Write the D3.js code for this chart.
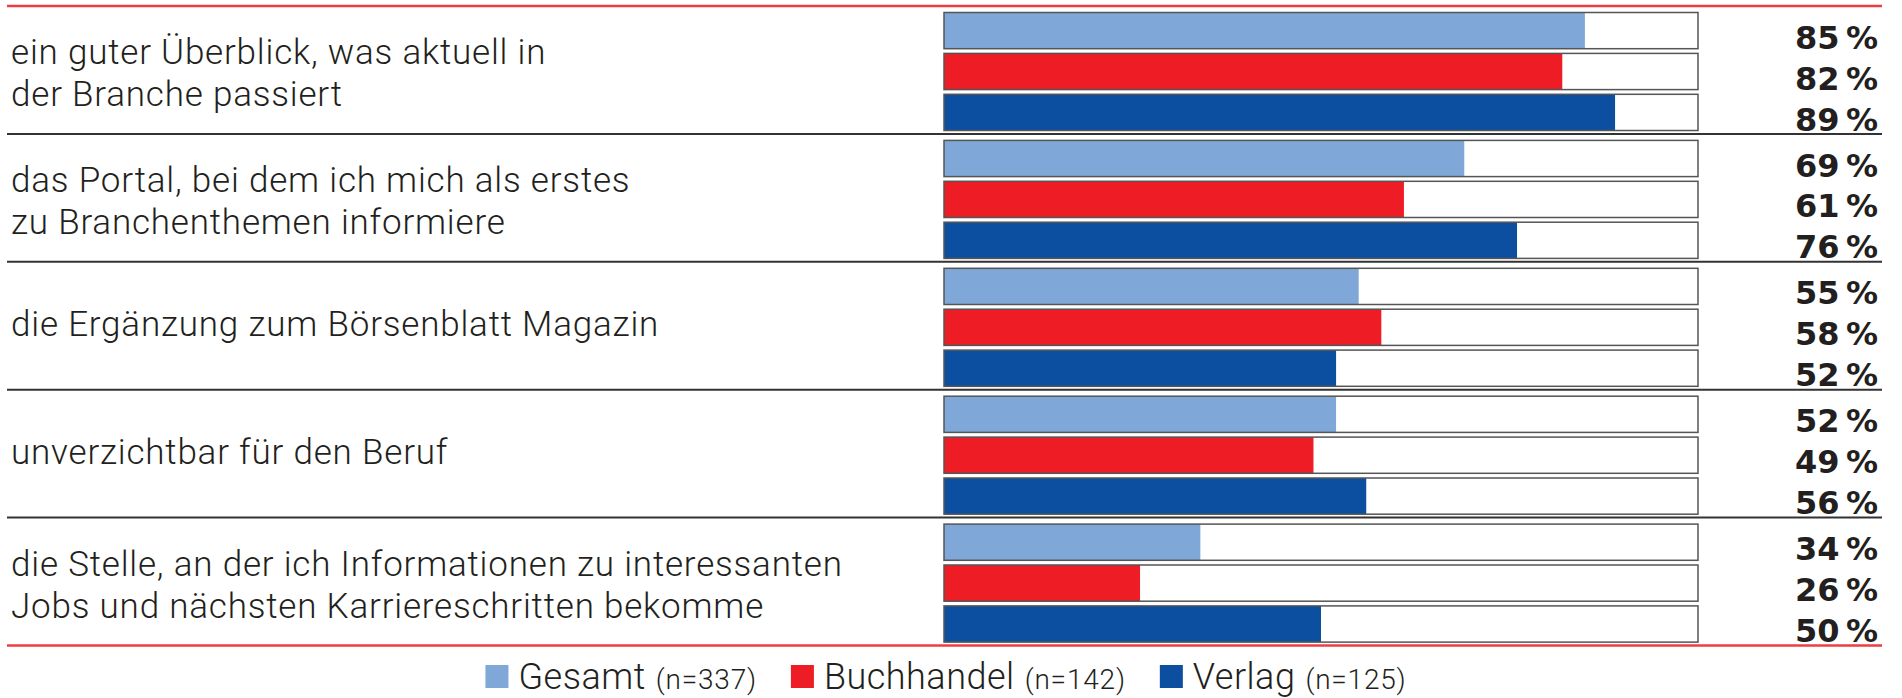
<!DOCTYPE html>
<html>
<head>
<meta charset="utf-8">
<script src="https://cdn.jsdelivr.net/npm/d3@7"></script>
<style>
  body { margin: 0; background: #fff; }
  .cat { font-family: Roboto, "Liberation Sans", sans-serif; font-weight: 300; font-size: 35px; letter-spacing: 0.8px; fill: #231f20; }
  .pct { font-family: "DejaVu Sans", sans-serif; font-weight: bold; font-size: 32px; fill: #231f20; }
  .leg { font-family: Roboto, "Liberation Sans", sans-serif; font-weight: 300; fill: #231f20; }
</style>
</head>
<body>
<div id="chart"></div>
<script>
// data
const categories = [
  ["ein guter Überblick, was aktuell in", "der Branche passiert"],
  ["das Portal, bei dem ich mich als erstes", "zu Branchenthemen informiere"],
  ["die Ergänzung zum Börsenblatt Magazin"],
  ["unverzichtbar für den Beruf"],
  ["die Stelle, an der ich Informationen zu interessanten", "Jobs und nächsten Karriereschritten bekomme"]
];
const seriesNames = ["Gesamt", "Buchhandel", "Verlag"];
const seriesN = ["(n=337)", "(n=142)", "(n=125)"];
const gesamt = [85, 69, 55, 52, 34];
const buchhandel = [82, 61, 58, 49, 26];
const verlag = [89, 76, 52, 56, 50];
const colors = ["#7fa8d8", "#ee1d25", "#0c4fa0"];

const width = 1902, height = 698;

const svg = d3.select("#chart")
  .append("svg")
    .attr("width", width)
    .attr("height", height);

const values = [gesamt, buchhandel, verlag];
const rows = categories.map((c, i) => ({ idx: i, lines: c }));

// scales
const y = d3.scaleBand()
  .domain(rows.map(d => d.idx))
  .range([6, 645.5])
  .padding(0);

const ySub = d3.scaleBand()
  .domain(seriesNames)
  .range([6.5, 124.5])
  .paddingInner(0.115)
  .paddingOuter(0);

const x = d3.scaleLinear()
  .domain([0, 100])
  .range([944, 1698]);

const lineX0 = 7, lineX1 = 1882;

// group rows
const g = svg.selectAll("g.row")
  .data(rows)
  .join("g")
    .attr("class", "row")
    .attr("transform", d => `translate(0,${y(d.idx)})`);

// category labels
g.each(function(d) {
  const mid = y.bandwidth() / 2;
  const t = d3.select(this).append("text").attr("class", "cat");
  if (d.lines.length === 1) {
    t.append("tspan").attr("x", 11).attr("y", mid + 10).text(d.lines[0]);
  } else {
    d.lines.forEach((l, k) => {
      t.append("tspan").attr("x", 11).attr("y", mid - 5.5 + k * 41.5).text(l);
    });
  }
});

// bars
const bars = g.selectAll("g.bar")
  .data(d => seriesNames.map((s, j) => ({ s: s, j: j, v: values[j][d.idx] })))
  .join("g")
    .attr("class", "bar");

bars.append("rect")
  .attr("x", x(0))
  .attr("y", d => ySub(d.s))
  .attr("width", x(100) - x(0))
  .attr("height", ySub.bandwidth())
  .attr("fill", "#fff");

bars.append("rect")
  .attr("x", x(0))
  .attr("y", d => ySub(d.s))
  .attr("width", d => x(d.v) - x(0))
  .attr("height", ySub.bandwidth())
  .attr("fill", d => colors[d.j]);

bars.append("rect")
  .attr("x", x(0))
  .attr("y", d => ySub(d.s))
  .attr("width", x(100) - x(0))
  .attr("height", ySub.bandwidth())
  .attr("fill", "none")
  .attr("stroke", "#555")
  .attr("stroke-width", 1.5);

bars.append("text")
  .attr("class", "pct")
  .attr("x", 1878)
  .attr("y", d => ySub(d.s) + ySub.bandwidth())
  .attr("text-anchor", "end")
  .text(d => d.v + "\u2009%");

// separator lines
svg.selectAll("line.sep")
  .data(rows.slice(1))
  .join("line")
    .attr("class", "sep")
    .attr("x1", lineX0).attr("x2", lineX1)
    .attr("y1", d => y(d.idx)).attr("y2", d => y(d.idx))
    .attr("stroke", "#333")
    .attr("stroke-width", 2);

// red top / bottom lines
svg.selectAll("line.red")
  .data([y.range()[0], y.range()[1]])
  .join("line")
    .attr("class", "red")
    .attr("x1", lineX0).attr("x2", lineX1)
    .attr("y1", d => d).attr("y2", d => d)
    .attr("stroke", "#ee3e45")
    .attr("stroke-width", 2.5);

// legend
const legend = svg.append("g");
let cx = 0;
seriesNames.forEach((s, j) => {
  const item = legend.append("g").attr("transform", `translate(${cx},0)`);
  item.append("rect")
    .attr("x", 0).attr("y", 665)
    .attr("width", 23).attr("height", 23)
    .attr("fill", colors[j]);
  const t1 = item.append("text")
    .attr("class", "leg")
    .attr("x", 33).attr("y", 689)
    .style("font-size", "36px")
    .style("letter-spacing", "0.5px")
    .text(s);
  const w1 = t1.node().getComputedTextLength();
  const t2 = item.append("text")
    .attr("class", "leg")
    .attr("x", 33 + w1 + 10).attr("y", 689)
    .style("font-size", "28px")
    .style("letter-spacing", "0.8px")
    .text(seriesN[j]);
  const w2 = t2.node().getComputedTextLength();
  cx += 33 + w1 + 10 + w2 + 34;
});
const legW = cx - 34;
legend.attr("transform", `translate(${946 - legW / 2},0)`);
</script>
</body>
</html>
